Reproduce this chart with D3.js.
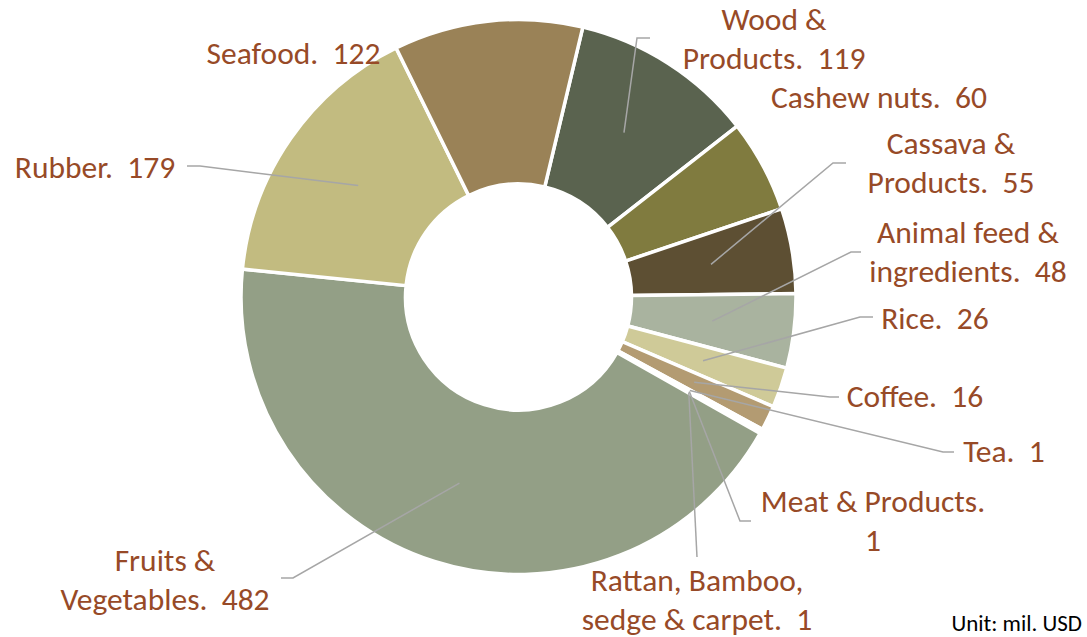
<!DOCTYPE html>
<html>
<head>
<meta charset="utf-8">
<script src="https://cdn.jsdelivr.net/npm/d3@7"></script>
<style>
  html, body { margin: 0; padding: 0; background: #fff; }
  svg { display: block; }
  text { white-space: pre; }
</style>
</head>
<body>
<svg id="chart" width="1087" height="637"></svg>
<script>
// ---- data ----
const categories = ["Wood & Products", "Cashew nuts", "Cassava & Products", "Animal feed & ingredients",
  "Rice", "Coffee", "Tea", "Meat & Products", "Rattan, Bamboo, sedge & carpet",
  "Fruits & Vegetables", "Rubber", "Seafood"];
const values = [119, 60, 55, 48, 26, 16, 1, 1, 1, 482, 179, 122];
const labelLines = [
  ["Wood &", "Products.  119"],
  ["Cashew nuts.  60"],
  ["Cassava &", "Products.  55"],
  ["Animal feed &", "ingredients.  48"],
  ["Rice.  26"],
  ["Coffee.  16"],
  ["Tea.  1"],
  ["Meat & Products.", "1"],
  ["Rattan, Bamboo,", "sedge & carpet.  1"],
  ["Fruits &", "Vegetables.  482"],
  ["Rubber.  179"],
  ["Seafood.  122"]
];
const unitLabel = "Unit: mil. USD";

// ---- style / layout ----
const colors = ["#5a634f", "#807b3f", "#5d4f33", "#a9b39f", "#cfca98", "#b39b72",
  "#8f8a6a", "#a38c66", "#b7a77f", "#939f86", "#c2bb80", "#9a8257"];
const cx = 518.5, cy = 297, outerR = 277.5, innerR = 113;
const startDeg = 13.4;
const labelColor = "#974a27";
const lineColor = "#a6a6a6";
const fontFamily = "Carlito, Calibri, Lato, sans-serif";
const fontSize = 31.5;
const lineGap = 38.5;
// label layout: text centre x, first baseline y, leader elbow & end (null = no leader)
const labelLayout = [
  { x: 774, y: 30,  elbow: [637, 38],  end: [650, 38] },
  { x: 879, y: 108, elbow: null, end: null },
  { x: 951, y: 154, elbow: [833, 163], end: [846, 163] },
  { x: 968, y: 243, elbow: [851, 252], end: [861, 252] },
  { x: 935, y: 329, elbow: [860, 317], end: [873, 317] },
  { x: 915, y: 407, elbow: [830, 397], end: [839, 397] },
  { x: 1004, y: 462, elbow: [943, 452], end: [954, 452] },
  { x: 873, y: 512, elbow: [740, 521], end: [751, 521] },
  { x: 697, y: 591, elbow: [697, 557], end: [697, 557] },
  { x: 165, y: 571, elbow: [293, 578], end: [281, 578] },
  { x: 95,  y: 178, elbow: [200, 166], end: [187, 166] },
  { x: 293.5, y: 64, elbow: null, end: null }
];

const data = categories.map((c, i) => ({ name: c, value: values[i], idx: i }));
const svg = d3.select("#chart");
const g = svg.append("g").attr("transform", `translate(${cx},${cy})`);

const toRad = d => d * Math.PI / 180;
const pie = d3.pie().sort(null).value(d => d.value)
  .startAngle(toRad(startDeg)).endAngle(toRad(startDeg + 360));
const arcs = pie(data);
const arc = d3.arc().innerRadius(innerR).outerRadius(outerR);

g.selectAll("path.slice").data(arcs).join("path")
  .attr("class", "slice")
  .attr("d", arc)
  .attr("fill", (d, i) => colors[i])
  .attr("stroke", "#fff")
  .attr("stroke-width", 3.5)
  .attr("stroke-linejoin", "miter");

// leader lines
const lines = svg.append("g");
arcs.forEach((d, i) => {
  const L = labelLayout[i];
  if (!L.elbow) return;
  const c = arc.centroid(d);
  const pts = [[c[0] + cx, c[1] + cy], L.elbow, L.end];
  lines.append("polyline")
    .attr("points", pts.map(p => p.join(",")).join(" "))
    .attr("fill", "none")
    .attr("stroke", lineColor)
    .attr("stroke-width", 1.5);
});

// labels
const labels = svg.append("g")
  .attr("font-family", fontFamily)
  .attr("font-size", fontSize)
  .attr("fill", labelColor)
  .attr("text-anchor", "middle");
labelLines.forEach((ls, i) => {
  const L = labelLayout[i];
  const t = labels.append("text").attr("x", L.x).attr("y", L.y)
    .attr("xml:space", "preserve");
  ls.forEach((s, j) => {
    t.append("tspan").attr("x", L.x).attr("y", L.y + j * lineGap).text(s);
  });
});

svg.append("text")
  .attr("x", 1082).attr("y", 631)
  .attr("text-anchor", "end")
  .attr("font-family", fontFamily)
  .attr("font-size", 23)
  .attr("fill", "#000")
  .text(unitLabel);
</script>
</body>
</html>
